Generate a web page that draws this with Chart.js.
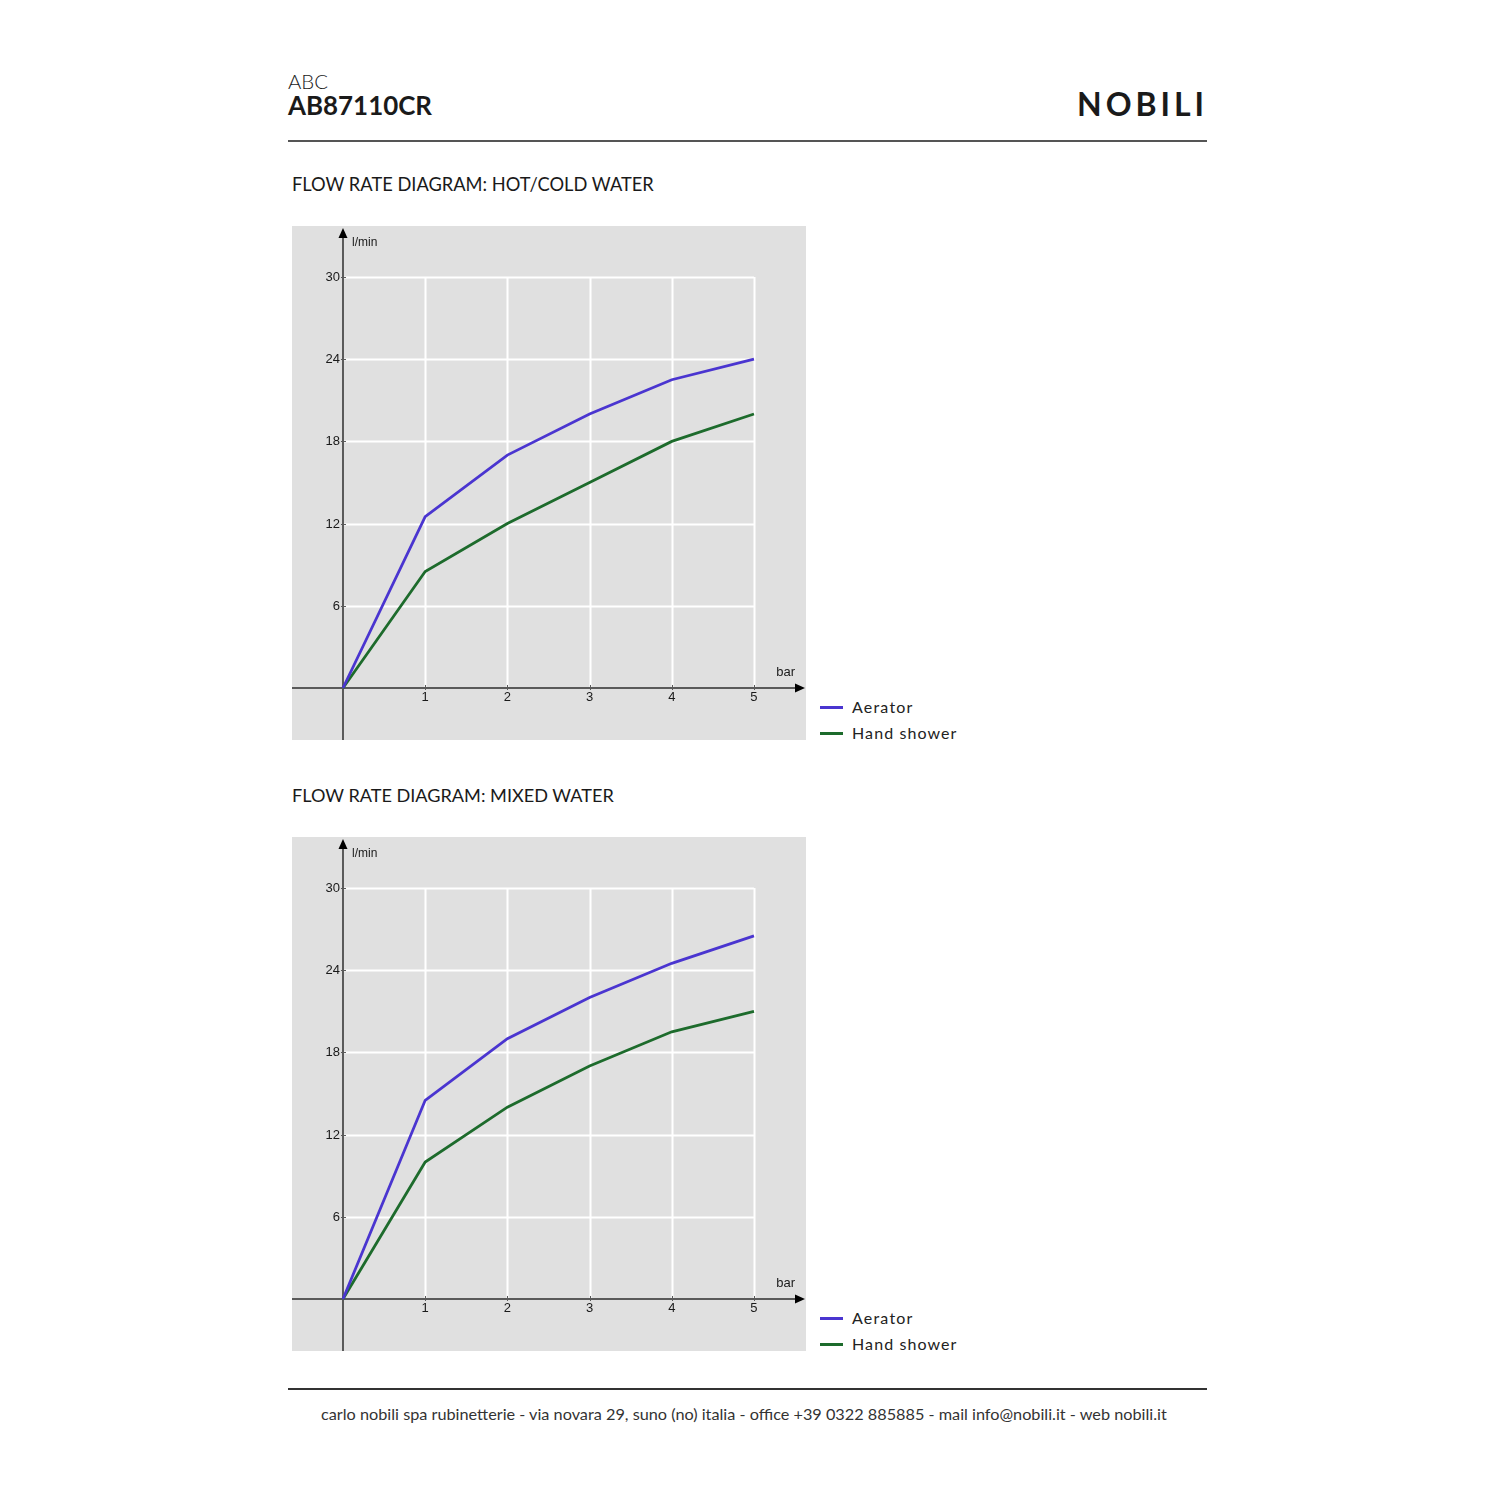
<!DOCTYPE html>
<html>
<head>
<meta charset="utf-8">
<script src="https://cdn.jsdelivr.net/npm/chart.js@4/dist/chart.umd.min.js"></script>
<style>
  html, body { margin: 0; padding: 0; background: #fff; }
  #page { position: relative; width: 1500px; height: 1500px; overflow: hidden; font-family: "Lato", "Inter", sans-serif; color: #1a1a1a; }
  .abs { position: absolute; white-space: nowrap; line-height: 1; }
  .rule { position: absolute; left: 288px; width: 919px; height: 1.5px; background: #555; }
  .panel { position: absolute; left: 292px; width: 514px; height: 514px; }
  .leg { position: absolute; left: 820px; font-size: 16px; color: #222; }
  .leg .row { position: relative; height: 26px; }
  .leg .sw { position: absolute; left: 0; top: 7px; width: 23px; height: 3px; }
  .leg .tx { position: absolute; left: 32px; top: 0; white-space: nowrap; line-height: 1; }
</style>
</head>
<body>
<div id="page">
  <div class="abs" style="left:288px; top:71px; font-size:17px; font-weight:300;" data-w="40">ABC</div>
  <div class="abs" style="left:288px; top:93px; font-size:25px; font-weight:700;" data-w="144">AB87110CR</div>
  <div class="abs" id="logo" style="left:1077px; top:88px; font-size:32px; font-weight:700;" data-ls="129">NOBILI</div>
  <div class="rule" style="top:140px;"></div>

  <div class="abs" style="left:292px; top:175px; font-size:15px;" data-w="362">FLOW RATE DIAGRAM: HOT/COLD WATER</div>
  <div class="panel" style="top:226px;"><canvas id="c1"></canvas></div>
  <div class="leg" id="leg1" style="top:699px;"></div>

  <div class="abs" style="left:292px; top:786px; font-size:15px;" data-w="322">FLOW RATE DIAGRAM: MIXED WATER</div>
  <div class="panel" style="top:837px;"><canvas id="c2"></canvas></div>
  <div class="leg" id="leg2" style="top:1310px;"></div>

  <div class="rule" style="top:1388px; background:#333;"></div>
  <div class="abs" style="left:321px; top:1406px; font-size:15px; color:#333;" data-w="846">carlo nobili spa rubinetterie - via novara 29, suno (no) italia - office +39 0322 885885 - mail info@nobili.it - web nobili.it</div>
</div>

<script>
// ---- data ----
const pressureBar = [0, 1, 2, 3, 4, 5];
const hotColdAerator = [0, 12.5, 17, 20, 22.5, 24];
const hotColdHandShower = [0, 8.5, 12, 15, 18, 20];
const mixedAerator = [0, 14.5, 19, 22, 24.5, 26.5];
const mixedHandShower = [0, 10, 14, 17, 19.5, 21];
const xTickLabels = [1, 2, 3, 4, 5];
const yTickLabels = [6, 12, 18, 24, 30];
const seriesNames = ["Aerator", "Hand shower"];
const legendWidths = [61, 105];
const seriesColors = ["#4a35d0", "#1d6b2c"];

// ---- legends ----
function buildLegend(id) {
  const box = document.getElementById(id);
  seriesNames.forEach((n, i) => {
    const row = document.createElement('div');
    row.className = 'row';
    row.innerHTML = '<div class="sw" style="background:' + seriesColors[i] + '"></div><div class="tx" data-ls="' + legendWidths[i] + '">' + n + '</div>';
    box.appendChild(row);
  });
}
buildLegend('leg1');
buildLegend('leg2');

// ---- fit texts to measured widths ----
document.querySelectorAll('[data-w]').forEach(el => {
  const target = parseFloat(el.dataset.w);
  const w = el.getBoundingClientRect().width;
  if (w > 0) {
    const fs = parseFloat(getComputedStyle(el).fontSize);
    el.style.fontSize = (fs * target / w).toFixed(2) + 'px';
  }
});
document.querySelectorAll('[data-ls]').forEach(el => {
  const target = parseFloat(el.dataset.ls);
  const w = el.getBoundingClientRect().width;
  const n = el.textContent.length;
  if (w > 0 && n > 1) {
    el.style.letterSpacing = ((target - w) / (n - 0.5)).toFixed(2) + 'px';
  }
});

// ---- chart decoration plugin ----
const diagramPlugin = {
  id: 'diagram',
  beforeDatasetsDraw(chart) {
    const { ctx, chartArea: a, scales: { x, y } } = chart;
    ctx.save();
    ctx.fillStyle = '#e0e0e0';
    ctx.fillRect(a.left, a.top, a.right - a.left, a.bottom - a.top);

    const x0 = x.getPixelForValue(0), x5 = x.getPixelForValue(xTickLabels[xTickLabels.length - 1]);
    const y0 = y.getPixelForValue(0), y30 = y.getPixelForValue(yTickLabels[yTickLabels.length - 1]);

    // white grid
    ctx.strokeStyle = '#ffffff';
    ctx.lineWidth = 2;
    xTickLabels.forEach(v => {
      const px = Math.round(x.getPixelForValue(v)) + 0.5;
      ctx.beginPath(); ctx.moveTo(px, y0); ctx.lineTo(px, y30); ctx.stroke();
    });
    yTickLabels.forEach(v => {
      const py = Math.round(y.getPixelForValue(v)) + 0.5;
      ctx.beginPath(); ctx.moveTo(x0, py); ctx.lineTo(x5, py); ctx.stroke();
    });

    // axes
    ctx.strokeStyle = '#5a5a5a';
    ctx.lineWidth = 2;
    const arrowTopY = a.top + 2, arrowRightX = a.right - 1;
    ctx.beginPath(); ctx.moveTo(x0, a.bottom); ctx.lineTo(x0, arrowTopY + 6); ctx.stroke();
    ctx.beginPath(); ctx.moveTo(a.left, y0); ctx.lineTo(arrowRightX - 6, y0); ctx.stroke();
    ctx.fillStyle = '#000';
    ctx.beginPath(); ctx.moveTo(x0, arrowTopY); ctx.lineTo(x0 - 4.5, arrowTopY + 10); ctx.lineTo(x0 + 4.5, arrowTopY + 10); ctx.closePath(); ctx.fill();
    ctx.beginPath(); ctx.moveTo(arrowRightX, y0); ctx.lineTo(arrowRightX - 10, y0 - 4.5); ctx.lineTo(arrowRightX - 10, y0 + 4.5); ctx.closePath(); ctx.fill();

    // ticks
    ctx.strokeStyle = '#5a5a5a';
    ctx.lineWidth = 1;
    yTickLabels.forEach(v => {
      const py = Math.round(y.getPixelForValue(v)) + 0.5;
      ctx.beginPath(); ctx.moveTo(x0 - 2, py); ctx.lineTo(x0 + 3, py); ctx.stroke();
    });
    xTickLabels.forEach(v => {
      const px = Math.round(x.getPixelForValue(v)) + 0.5;
      ctx.beginPath(); ctx.moveTo(px, y0 - 3); ctx.lineTo(px, y0 + 2); ctx.stroke();
    });

    // tick labels
    ctx.fillStyle = '#1a1a1a';
    ctx.font = '13px "Liberation Sans", Arial, sans-serif';
    ctx.textAlign = 'right'; ctx.textBaseline = 'middle';
    yTickLabels.forEach(v => ctx.fillText(String(v), x0 - 3, y.getPixelForValue(v) + 0.5));
    ctx.textAlign = 'center'; ctx.textBaseline = 'top';
    xTickLabels.forEach(v => ctx.fillText(String(v), x.getPixelForValue(v), y0 + 3));

    // unit labels
    ctx.font = '12px "Liberation Sans", Arial, sans-serif';
    ctx.textAlign = 'left'; ctx.textBaseline = 'middle';
    ctx.fillText('l/min', x0 + 9, a.top + 17);
    ctx.textAlign = 'right';
    ctx.font = '13px "Liberation Sans", Arial, sans-serif';
    ctx.fillText('bar', a.right - 11, y0 - 16);
    ctx.restore();
  }
};

function makeChart(id, aer, hand) {
  const toPts = arr => arr.map((v, i) => ({ x: pressureBar[i], y: v }));
  return new Chart(document.getElementById(id), {
    type: 'line',
    data: {
      datasets: [
        { label: seriesNames[0], data: toPts(aer), borderColor: seriesColors[0], borderWidth: 2.8, pointRadius: 0, tension: 0, fill: false },
        { label: seriesNames[1], data: toPts(hand), borderColor: seriesColors[1], borderWidth: 2.8, pointRadius: 0, tension: 0, fill: false }
      ]
    },
    options: {
      responsive: true,
      maintainAspectRatio: false,
      animation: false,
      devicePixelRatio: 1,
      layout: { padding: 0 },
      plugins: { legend: { display: false }, tooltip: { enabled: false } },
      scales: {
        x: { type: 'linear', min: -0.6204, max: 5.633, display: false },
        y: { type: 'linear', min: -3.796, max: 33.72, display: false }
      }
    },
    plugins: [diagramPlugin]
  });
}
makeChart('c1', hotColdAerator, hotColdHandShower);
makeChart('c2', mixedAerator, mixedHandShower);
</script>
</body>
</html>
